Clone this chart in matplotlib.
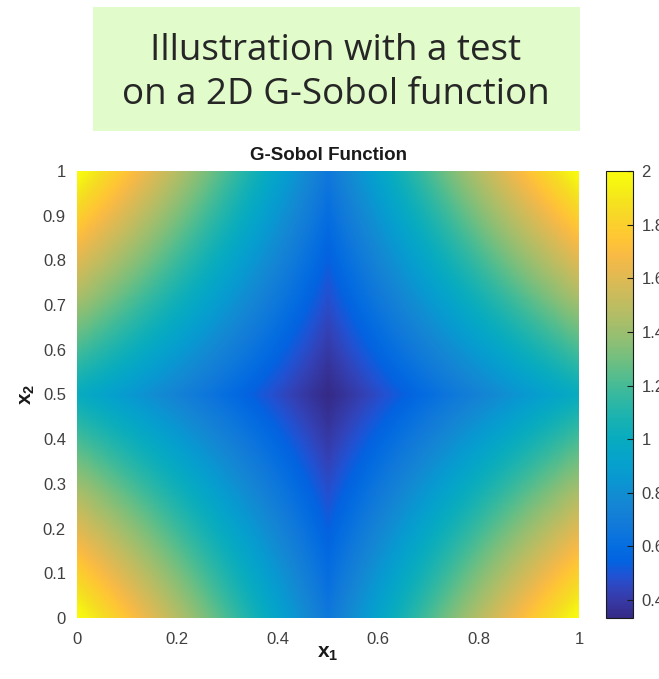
import numpy as np
import matplotlib.pyplot as plt
from matplotlib.colors import LinearSegmentedColormap
from matplotlib.patches import Rectangle
from matplotlib.ticker import FormatStrFormatter

plt.rcParams["mathtext.fontset"] = "custom"
plt.rcParams["mathtext.bf"] = "Liberation Sans:bold"
plt.rcParams["mathtext.rm"] = "Liberation Sans"

# G-Sobol coefficients, one per input dimension
a_coef = [1.0, 2.0]
n_grid = 301
x_ticks = [0, 0.2, 0.4, 0.6, 0.8, 1]
y_ticks = [0, 0.1, 0.2, 0.3, 0.4, 0.5, 0.6, 0.7, 0.8, 0.9, 1]
cbar_ticks = [0.4, 0.6, 0.8, 1.0, 1.2, 1.4, 1.6, 1.8, 2.0]
heading = "Illustration with a test\non a 2D G-Sobol function"

# parula-like colormap
parula_pts = [
    (0.2081, 0.1663, 0.5292), (0.2123, 0.2138, 0.6270), (0.1959, 0.2645, 0.7279),
    (0.1253, 0.3242, 0.8303), (0.0117, 0.3875, 0.8820), (0.0165, 0.4266, 0.8786),
    (0.0498, 0.4586, 0.8641), (0.0723, 0.4887, 0.8467), (0.0793, 0.5200, 0.8312),
    (0.0641, 0.5570, 0.8240), (0.0343, 0.5966, 0.8199), (0.0239, 0.6287, 0.8038),
    (0.0228, 0.6535, 0.7768), (0.0384, 0.6743, 0.7436), (0.0843, 0.6928, 0.7062),
    (0.1453, 0.7098, 0.6646), (0.2178, 0.7250, 0.6193), (0.3022, 0.7376, 0.5712),
    (0.3953, 0.7459, 0.5244), (0.4871, 0.7491, 0.4840), (0.5709, 0.7485, 0.4494),
    (0.6473, 0.7456, 0.4188), (0.7184, 0.7411, 0.3905), (0.7858, 0.7356, 0.3633),
    (0.8507, 0.7299, 0.3360), (0.9139, 0.7258, 0.3063), (0.9739, 0.7314, 0.2666),
    (0.9990, 0.7653, 0.2164), (0.9880, 0.8066, 0.1794), (0.9697, 0.8481, 0.1475),
    (0.9589, 0.8949, 0.1132), (0.9661, 0.9514, 0.0755), (0.9763, 0.9831, 0.0538),
]
parula = LinearSegmentedColormap.from_list("parula", parula_pts)


def g_sobol(x1, x2):
    g1 = (np.abs(4 * x1 - 2) + a_coef[0]) / (1 + a_coef[0])
    g2 = (np.abs(4 * x2 - 2) + a_coef[1]) / (1 + a_coef[1])
    return g1 * g2


x = np.linspace(0, 1, n_grid)
X1, X2 = np.meshgrid(x, x)
Z = g_sobol(X1, X2)

fig = plt.figure(figsize=(6.59, 6.79), dpi=100)

# heading box
fig.patches.append(Rectangle((93 / 659, 1 - 131 / 679), 487 / 659, 124 / 679,
                             transform=fig.transFigure, facecolor="#e1fbcb",
                             edgecolor="none", zorder=0))
fig.text(336 / 659, 1 - 73 / 679, heading, ha="center", va="center",
         fontsize=26.5, family="Open Sans", color="#262626", linespacing=1.3)

gray = "#404040"
ax = fig.add_axes([77 / 659, 61 / 679, 502 / 659, 447 / 679])
im = ax.imshow(Z, origin="lower", extent=[0, 1, 0, 1], aspect="auto",
               cmap=parula, vmin=Z.min(), vmax=Z.max(), interpolation="bilinear")
for s in ax.spines.values():
    s.set_visible(False)
ax.set_xticks(x_ticks)
ax.set_yticks(y_ticks)
ax.xaxis.set_major_formatter(FormatStrFormatter("%g"))
ax.yaxis.set_major_formatter(FormatStrFormatter("%g"))
ax.tick_params(length=0, labelsize=12, colors=gray, labelcolor=gray,
               labelfontfamily="Liberation Sans")
ax.tick_params(axis="x", pad=10)
ax.tick_params(axis="y", pad=8)
ax.set_title("G-Sobol Function", fontsize=13.5, fontweight="bold",
             family="Liberation Sans", color="#1a1a1a", pad=8)
ax.set_xlabel(r"$\mathbf{x}_\mathbf{1}$", fontsize=15, color="#1a1a1a", labelpad=-3)
ax.set_ylabel(r"$\mathbf{x}_\mathbf{2}$", fontsize=15, color="#1a1a1a", labelpad=4)

cax = fig.add_axes([606 / 659, 61 / 679, 27 / 659, 447 / 679])
cb = fig.colorbar(im, cax=cax, ticks=cbar_ticks)
cb.outline.set_linewidth(0.8)
cb.outline.set_edgecolor("#1a1a1a")
cax.yaxis.set_major_formatter(FormatStrFormatter("%g"))
cax.tick_params(direction="in", length=4, width=0.8, color="#1a1a1a",
                labelsize=12, labelcolor=gray, pad=6,
                labelfontfamily="Liberation Sans")

fig.savefig("out.png", dpi=100)
